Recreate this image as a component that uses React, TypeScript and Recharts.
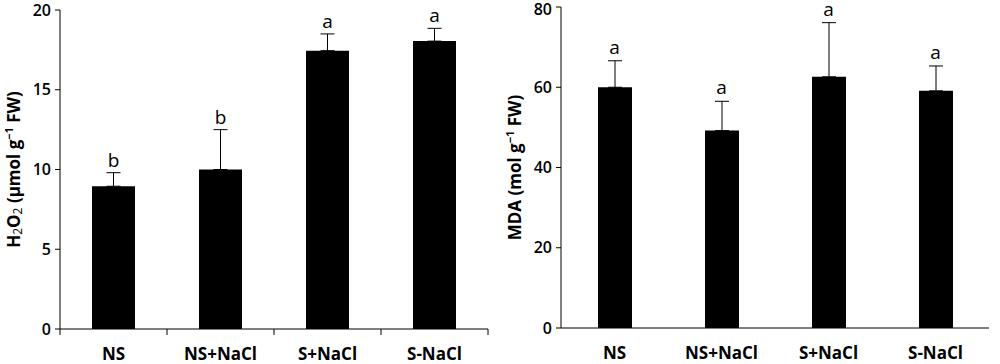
import React from 'react';
import { ComposedChart, Bar, Line, XAxis, YAxis, ErrorBar, LabelList, Label } from 'recharts';

const categories = ['NS', 'NS+NaCl', 'S+NaCl', 'S-NaCl'];
const h2o2Values = [8.95, 10.0, 17.45, 18.05];
const h2o2Errors = [0.85, 2.5, 1.05, 0.8];
const h2o2Letters = ['b', 'b', 'a', 'a'];
const h2o2Ticks = [0, 5, 10, 15, 20];
const mdaValues = [60.0, 49.2, 62.6, 59.1];
const mdaErrors = [6.6, 7.3, 13.5, 6.2];
const mdaLetters = ['a', 'a', 'a', 'a'];
const mdaTicks = [0, 20, 40, 60, 80];

const build = (vals: number[], errs: number[], letters: string[]) =>
  categories.map((name, i) => ({
    name,
    value: vals[i],
    err: [0, errs[i]],
    top: vals[i] + errs[i],
    letter: letters[i],
  }));

const h2o2Data = build(h2o2Values, h2o2Errors, h2o2Letters);
const mdaData = build(mdaValues, mdaErrors, mdaLetters);

const FONT = '"Open Sans", "DejaVu Sans", sans-serif';

const CategoryTick = (props: any) => {
  const { x, y, payload, index, boundaries, fallbackHalf } = props;
  const half = payload && typeof payload.offset === 'number' && payload.offset > 0 ? payload.offset : fallbackHalf;
  const idx = typeof index === 'number' ? index : payload.index;
  return (
    <g>
      {boundaries && <line x1={x - half} x2={x - half} y1={y} y2={y + 6} stroke="#000" strokeWidth={1} />}
      {boundaries && idx === categories.length - 1 && (
        <line x1={x + half} x2={x + half} y1={y} y2={y + 6} stroke="#000" strokeWidth={1} />
      )}
      <text x={x} y={y + 31} textAnchor="middle" fontSize={17} fontWeight={700} fill="#000" fontFamily={FONT}>
        {payload.value}
      </text>
    </g>
  );
};

const H2O2Title = (props: any) => {
  const vb = props.viewBox || { x: 0, y: 0, width: 0, height: 0 };
  const cx = vb.x + 13;
  const cy = vb.y + vb.height / 2;
  return (
    <text
      transform={`translate(${cx},${cy}) rotate(-90)`}
      textAnchor="middle"
      dominantBaseline="central"
      fontSize={17}
      fontWeight={700}
      fill="#000"
      fontFamily={FONT}
    >
      <tspan>H</tspan>
      <tspan dy={4} fontSize={12} fontWeight={400}>2</tspan>
      <tspan dy={-4}>O</tspan>
      <tspan dy={4} fontSize={12} fontWeight={400}>2</tspan>
      <tspan dy={-4}> (µmol g</tspan>
      <tspan dy={-5} fontSize={11}>−1</tspan>
      <tspan dy={5}> FW)</tspan>
    </text>
  );
};

const MdaTitle = (props: any) => {
  const vb = props.viewBox || { x: 0, y: 0, width: 0, height: 0 };
  const cx = vb.x + 14;
  const cy = vb.y + vb.height / 2;
  return (
    <text
      transform={`translate(${cx},${cy}) rotate(-90)`}
      textAnchor="middle"
      dominantBaseline="central"
      fontSize={17}
      fontWeight={700}
      fill="#000"
      fontFamily={FONT}
    >
      <tspan>MDA (mol g</tspan>
      <tspan dy={-5} fontSize={11}>−1</tspan>
      <tspan dy={5}> FW)</tspan>
    </text>
  );
};

const tickStyle = { fontSize: 16, fontWeight: 600, fill: '#000', fontFamily: FONT };

type PanelProps = {
  data: any[];
  ticks: number[];
  max: number;
  margin: any;
  yWidth: number;
  xHeight: number;
  barSize: number;
  boundaries: boolean;
  fallbackHalf: number;
  Title: any;
  labelOffset: number;
};

const Panel = ({ data, ticks, max, margin, yWidth, xHeight, barSize, boundaries, fallbackHalf, Title, labelOffset }: PanelProps) => (
  <ComposedChart width={500} height={364} data={data} margin={margin} style={{ fontFamily: FONT }}>
    <XAxis
      dataKey="name"
      height={xHeight}
      axisLine={{ stroke: '#000', strokeWidth: 1 }}
      tickLine={false}
      tickSize={0}
      tickMargin={0}
      interval={0}
      tick={(p: any) => <CategoryTick {...p} boundaries={boundaries} fallbackHalf={fallbackHalf} />}
    />
    <XAxis
      xAxisId="top"
      dataKey="name"
      orientation="top"
      height={0}
      tick={false}
      tickLine={false}
      axisLine={{ stroke: '#000', strokeWidth: 1 }}
    />
    <YAxis
      domain={[0, max]}
      ticks={ticks}
      width={yWidth}
      axisLine={{ stroke: '#000', strokeWidth: 1 }}
      tickLine={{ stroke: '#000', strokeWidth: 1 }}
      tickSize={5}
      tickMargin={4}
      tick={tickStyle}
      allowDataOverflow
    >
      <Label content={(p: any) => <Title {...p} />} />
    </YAxis>
    <YAxis
      yAxisId="right"
      orientation="right"
      width={0}
      tick={false}
      tickLine={false}
      axisLine={{ stroke: '#000', strokeWidth: 1 }}
    />
    <Bar dataKey="value" fill="#000" barSize={barSize} isAnimationActive={false}>
      <ErrorBar dataKey="err" direction="y" width={7} stroke="#000" strokeWidth={1} isAnimationActive={false} />
    </Bar>
    <Line
      dataKey="top"
      stroke="none"
      strokeOpacity={0}
      dot={false}
      activeDot={false}
      legendType="none"
      isAnimationActive={false}
    >
      <LabelList dataKey="letter" position="top" offset={labelOffset} fontSize={19} fill="#000" fontFamily={FONT} />
    </Line>
  </ComposedChart>
);

export default function App() {
  return (
    <div style={{ position: 'absolute', left: 0, top: 0, width: 1000, height: 364, background: '#fff', fontFamily: FONT }}>
      <div style={{ position: 'absolute', left: 0, top: 0 }}>
        <Panel
          data={h2o2Data}
          ticks={h2o2Ticks}
          max={20}
          margin={{ top: 10, right: 12, bottom: 0, left: 0 }}
          yWidth={60}
          xHeight={35}
          barSize={43}
          boundaries={true}
          fallbackHalf={53.5}
          Title={H2O2Title}
          labelOffset={6}
        />
      </div>
      <div style={{ position: 'absolute', left: 500, top: 0 }}>
        <Panel
          data={mdaData}
          ticks={mdaTicks}
          max={80}
          margin={{ top: 7, right: 11, bottom: 0, left: 0 }}
          yWidth={61}
          xHeight={36}
          barSize={34}
          boundaries={false}
          fallbackHalf={53.5}
          Title={MdaTitle}
          labelOffset={7}
        />
      </div>
    </div>
  );
}
